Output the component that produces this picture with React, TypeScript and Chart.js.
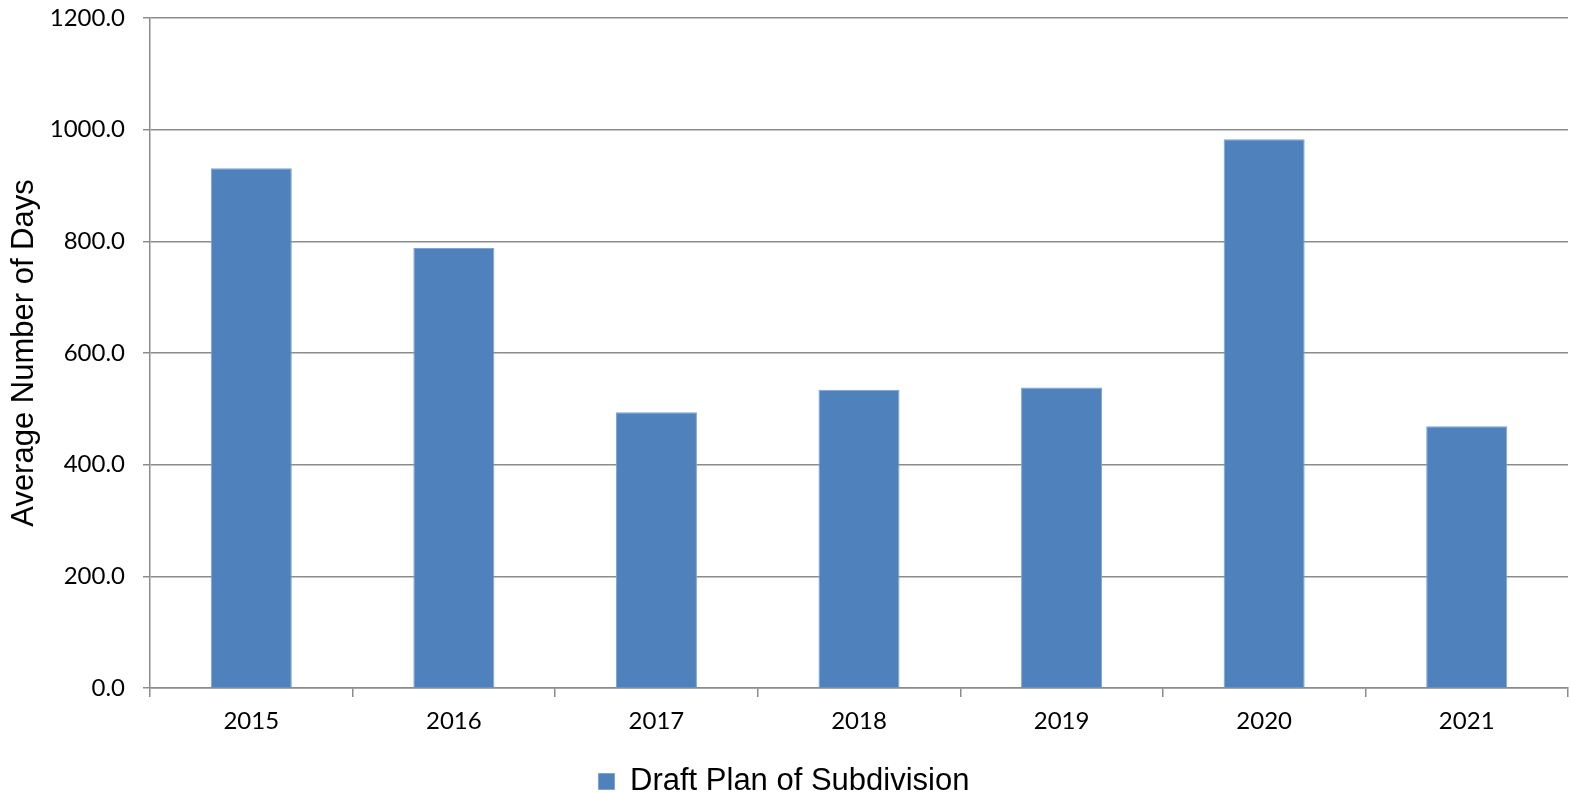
import React, { useEffect, useRef } from "react";
import { Chart, registerables } from "chart.js";

Chart.register(...registerables);

const categories = ["2015", "2016", "2017", "2018", "2019", "2020", "2021"];
const seriesName = "Draft Plan of Subdivision";
const seriesValues = [931, 788, 494, 534, 538, 983, 469];
const yTitle = "Average Number of Days";

export default function App() {
  const ref = useRef<HTMLCanvasElement | null>(null);
  useEffect(() => {
    if (!ref.current) return;
    const grey = "#8c8c8c";
    const chart = new Chart(ref.current, {
      type: "bar",
      data: {
        labels: categories,
        datasets: [
          {
            label: seriesName,
            data: seriesValues,
            backgroundColor: "#4f81bd",
            borderColor: "#7ea3d1",
            borderWidth: 1,
            barPercentage: 0.4,
            categoryPercentage: 1.0,
          },
        ],
      },
      options: {
        animation: false,
        responsive: false,
        maintainAspectRatio: false,
        layout: { padding: { top: 18, right: 3, left: 0, bottom: 0 } },
        plugins: {
          tooltip: { enabled: false },
          legend: {
            position: "bottom",
            maxHeight: 27,
            labels: {
              boxWidth: 16,
              boxHeight: 16,
              color: "#000",
              padding: 0,
              font: { family: "'Liberation Sans', Arial, sans-serif", size: 31 },
            },
          },
        },
        scales: {
          x: {
            grid: {
              drawOnChartArea: false,
              drawTicks: true,
              tickLength: 9,
              color: grey,
              lineWidth: 1.5,
              offset: true,
            },
            border: { color: grey, width: 1.5 },
            ticks: {
              color: "#000",
              padding: 10,
              font: { family: "Lato, 'Open Sans', sans-serif", size: 24 },
              maxRotation: 0,
            },
            afterFit: (s: any) => {
              s.height = 78;
              s.paddingLeft = 0;
              s.paddingRight = 0;
            },
          },
          y: {
            min: 0,
            max: 1200,
            ticks: {
              stepSize: 200,
              color: "#000",
              padding: 18,
              font: { family: "Lato, 'Open Sans', sans-serif", size: 24 },
              callback: (v: any) => Number(v).toFixed(1),
            },
            grid: { color: grey, lineWidth: 1.5, tickLength: 7 },
            border: { color: grey, width: 1.5 },
            title: {
              display: true,
              text: yTitle,
              color: "#000",
              font: { family: "'Liberation Sans', Arial, sans-serif", size: 31 },
              padding: { top: 6, bottom: 0 },
            },
            afterFit: (s: any) => {
              s.width = 150;
              s.paddingTop = 0;
              s.paddingBottom = 0;
            },
          },
        },
      },
    });
    return () => chart.destroy();
  }, []);
  return (
    <div style={{ position: "absolute", left: 0, top: 0, width: 1571, height: 793, background: "#fff" }}>
      <canvas ref={ref} width={1571} height={793} style={{ display: "block" }} />
    </div>
  );
}
